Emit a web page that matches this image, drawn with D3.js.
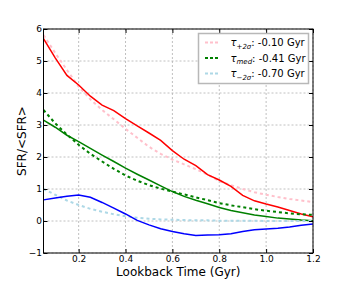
<!DOCTYPE html>
<html>
<head>
<meta charset="utf-8">
<script src="https://cdn.jsdelivr.net/npm/d3@7"></script>
<style>
  body { margin: 0; background: #fff; }
  svg text { font-family: "DejaVu Sans", sans-serif; fill: #000; }
</style>
</head>
<body>
<div id="chart"></div>
<script>
// lookback time grid (Gyr)
var times = [0.05, 0.10, 0.15, 0.20, 0.25, 0.30, 0.35, 0.40, 0.45, 0.50, 0.55, 0.60,
             0.65, 0.70, 0.75, 0.80, 0.85, 0.90, 0.95, 1.00, 1.05, 1.10, 1.15, 1.20];

// solid curves
var redSolid = [5.70, 5.10, 4.55, 4.25, 3.90, 3.62, 3.45, 3.20, 2.97, 2.75, 2.52, 2.20,
                1.93, 1.73, 1.45, 1.28, 1.08, 0.80, 0.63, 0.53, 0.44, 0.33, 0.22, 0.13];
var greenSolid = [3.15, 2.93, 2.68, 2.48, 2.27, 2.06, 1.86, 1.65, 1.46, 1.28, 1.10, 0.92,
                  0.77, 0.65, 0.54, 0.42, 0.33, 0.26, 0.19, 0.14, 0.09, 0.06, 0.03, 0.01];
var blueSolid = [0.66, 0.72, 0.77, 0.81, 0.74, 0.58, 0.40, 0.22, 0.02, -0.12, -0.24, -0.33,
                 -0.40, -0.45, -0.44, -0.43, -0.40, -0.33, -0.27, -0.25, -0.23, -0.19, -0.13, -0.09];

// dashed model curves
var tauPlus = [5.81, 5.25, 4.72, 4.20, 3.80, 3.47, 3.18, 2.88, 2.60, 2.32, 2.10, 1.92,
               1.77, 1.62, 1.45, 1.25, 1.12, 1.00, 0.90, 0.82, 0.75, 0.69, 0.64, 0.59];
var tauMed = [3.47, 3.05, 2.70, 2.38, 2.10, 1.86, 1.63, 1.42, 1.26, 1.12, 1.01, 0.92,
              0.83, 0.74, 0.65, 0.56, 0.49, 0.43, 0.37, 0.32, 0.28, 0.24, 0.21, 0.19];
var tauMinus = [1.00, 0.82, 0.64, 0.50, 0.38, 0.29, 0.21, 0.15, 0.10, 0.07, 0.05, 0.04,
                0.03, 0.02, 0.02, 0.01, 0.01, 0.01, 0.01, 0.00, 0.00, 0.00, 0.00, 0.00];

var xTicks = [0.2, 0.4, 0.6, 0.8, 1.0, 1.2];
var yTicks = [-1, 0, 1, 2, 3, 4, 5, 6];

var legendSubs = ["+2σ", "med", "−2σ"];
var legendVals = ["-0.10 Gyr", "-0.41 Gyr", "-0.70 Gyr"];

var svgWidth = 348;
var svgHeight = 290;
var margin = { top: 29, right: 35, bottom: 37, left: 43.5 };
var width = svgWidth - margin.left - margin.right;
var height = svgHeight - margin.top - margin.bottom;

var svg = d3.select("#chart").append("svg")
  .attr("width", svgWidth)
  .attr("height", svgHeight);

var g = svg.append("g")
  .attr("transform", `translate(${margin.left}, ${margin.top})`);

var x = d3.scaleLinear().domain([0.05, 1.2]).range([0, width]);
var y = d3.scaleLinear().domain([-1, 6]).range([height, 0]);

// grid
g.selectAll(".gx").data(xTicks).enter().append("line")
  .attr("x1", d => x(d)).attr("x2", d => x(d))
  .attr("y1", 0).attr("y2", height)
  .attr("stroke", "#b0b0b0").attr("stroke-width", 0.8)
  .attr("stroke-dasharray", "2,2");
g.selectAll(".gy").data(yTicks).enter().append("line")
  .attr("x1", 0).attr("x2", width)
  .attr("y1", d => y(d)).attr("y2", d => y(d))
  .attr("stroke", "#b0b0b0").attr("stroke-width", 0.8)
  .attr("stroke-dasharray", "2,2");

var line = d3.line()
  .x((d, i) => x(times[i]))
  .y(d => y(d));

svg.append("clipPath").attr("id", "clip")
  .append("rect").attr("width", width).attr("height", height);

var plot = g.append("g").attr("clip-path", "url(#clip)");

function dashed(data, color) {
  plot.append("path").datum(data)
    .attr("d", line).attr("fill", "none")
    .attr("stroke", color).attr("stroke-width", 2)
    .attr("stroke-dasharray", "3,3");
}
function solid(data, color) {
  plot.append("path").datum(data)
    .attr("d", line).attr("fill", "none")
    .attr("stroke", color).attr("stroke-width", 1.5);
}

dashed(tauPlus, "#ffc0cb");
solid(redSolid, "#ff0000");
solid(greenSolid, "#008000");
dashed(tauMed, "#008000");
dashed(tauMinus, "#add8e6");
solid(blueSolid, "#0000ff");

// axes, ticks pointing inward on all four sides
var tl = 4;
g.append("g").attr("transform", `translate(0, ${height})`)
  .call(d3.axisBottom(x).tickValues(xTicks).tickFormat(d3.format(".1f")).tickSizeInner(-tl).tickSizeOuter(0).tickPadding(2.5))
  .call(a => a.select(".domain").remove());
g.append("g")
  .call(d3.axisTop(x).tickValues(xTicks).tickFormat("").tickSizeInner(-tl).tickSizeOuter(0))
  .call(a => a.select(".domain").remove());
g.append("g")
  .call(d3.axisLeft(y).tickValues(yTicks).tickFormat(d => d < 0 ? "−" + Math.abs(d) : d).tickSizeInner(-tl).tickSizeOuter(0).tickPadding(1.5))
  .call(a => a.select(".domain").remove());
g.append("g").attr("transform", `translate(${width}, 0)`)
  .call(d3.axisRight(y).tickValues(yTicks).tickFormat("").tickSizeInner(-tl).tickSizeOuter(0))
  .call(a => a.select(".domain").remove());

g.selectAll(".tick text").attr("font-size", 9).attr("font-family", "DejaVu Sans");
g.selectAll(".tick line").attr("stroke", "#000");

g.append("rect")
  .attr("width", width).attr("height", height)
  .attr("fill", "none").attr("stroke", "#000").attr("stroke-width", 1);

// legend
var leg = g.append("g").attr("transform", `translate(${198.5 - margin.left}, ${33.5 - margin.top})`);
leg.append("rect")
  .attr("width", 110).attr("height", 50)
  .attr("fill", "#fff").attr("stroke", "#b8b8b8").attr("stroke-width", 1.5);

var legColors = ["#ffc0cb", "#008000", "#add8e6"];
legendSubs.forEach((s, i) => {
  var ly = 9 + i * 15.5;
  leg.append("line")
    .attr("x1", 6.5).attr("x2", 19.5).attr("y1", ly).attr("y2", ly)
    .attr("stroke", legColors[i]).attr("stroke-width", 2)
    .attr("stroke-dasharray", "3,2");
  var t = leg.append("text").attr("x", 32).attr("y", ly + 3.5).attr("font-size", 10);
  t.append("tspan").attr("font-style", "italic").text("τ");
  t.append("tspan").attr("font-style", "italic").attr("font-size", 7).attr("dy", 2.5).text(s);
  t.append("tspan").attr("dy", -2.5).text(": " + legendVals[i]);
});

// axis labels
svg.append("text")
  .attr("transform", `translate(26, ${margin.top + height / 2}) rotate(-90)`)
  .attr("text-anchor", "middle").attr("font-size", 12)
  .text("SFR/<SFR>");
svg.append("text")
  .attr("x", margin.left + width / 2).attr("y", 276)
  .attr("text-anchor", "middle").attr("font-size", 12)
  .text("Lookback Time (Gyr)");
</script>
</body>
</html>
